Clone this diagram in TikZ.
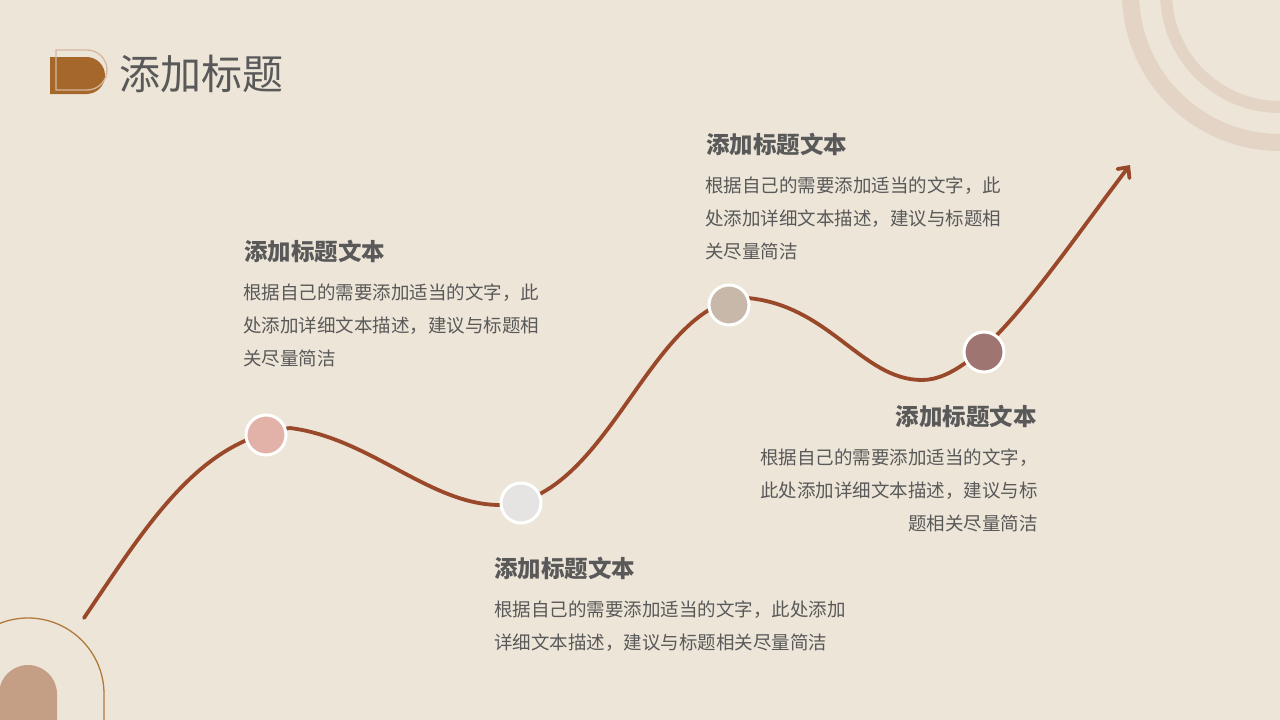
\documentclass[tikz,border=0pt]{standalone}
\usepackage{fontspec}
\setmainfont{Noto Sans CJK SC}
\usetikzlibrary{arrows.meta}
\definecolor{bgc}{HTML}{EDE5D8}
\definecolor{curvec}{HTML}{99482A}
\definecolor{ringc}{HTML}{E3D4C6}
\definecolor{txtc}{HTML}{595959}
\definecolor{iconfill}{HTML}{A5672A}
\definecolor{iconline}{HTML}{D6B79E}
\definecolor{archline}{HTML}{B07A3A}
\definecolor{archfill}{HTML}{C49E85}
\definecolor{dotA}{HTML}{E2B2A8}
\definecolor{dotB}{HTML}{E6E4E2}
\definecolor{dotC}{HTML}{C7B8AA}
\definecolor{dotD}{HTML}{9E7570}
\tikzset{
  dot/.style={circle, draw=white, line width=3pt, minimum size=40pt, inner sep=0pt},
  headtxt/.style={font=\fontsize{23.5}{28}\selectfont\bfseries, text=txtc, inner sep=0pt},
  bodytxt/.style={font=\fontsize{18.5}{22}\selectfont, text=txtc, inner sep=0pt},
  titletxt/.style={font=\fontsize{41}{46}\selectfont, text=txtc, inner sep=0pt},
  pathline/.style={draw=curvec, line width=3.8pt, line cap=round}
}
\begin{document}
\begin{tikzpicture}[x=1pt,y=-1pt]
\useasboundingbox (0,0) rectangle (1280,720);
\fill[bgc] (0,0) rectangle (1280,720);
% decorations
\begin{scope}
\clip (0,0) rectangle (1280,720);
\draw[ringc, line width=17pt] (1280,-7) circle (149.5);
\draw[ringc, line width=12pt] (1280,-7) circle (114);
\fill[archfill] (57,721) -- (57,694) arc[start angle=0, end angle=-180, radius=29] -- (-1,721) -- cycle;
\draw[archline, line width=1.3pt] (104,721) -- (104,694) arc[start angle=0, end angle=-180, radius=76] -- (-48,721);
\end{scope}
% title icon
\fill[iconfill] (50,57) -- (86.5,57) arc[start angle=-90, end angle=90, radius=18.5] -- (50,94) -- cycle;
\draw[iconline, line width=1.3pt] (56,90) -- (56,50) -- (87,50) arc[start angle=-90, end angle=90, radius=20] -- cycle;
\node[titletxt, anchor=base west] (title) at (119,89) {添加标题};
% curve
\coordinate (c0) at (84,618);
\coordinate (c5) at (1130,165);
\draw[pathline, -{Straight Barb[length=8pt,width=15pt,line cap=round]}]
  (c0) .. controls (150,520) and (200,440) .. (290,428)
  .. controls (370,438) and (430,505) .. (500,505)
  .. controls (610,500) and (650,300) .. (748,298)
  .. controls (830,306) and (862,380) .. (922,380)
  .. controls (980,380) and (1050,270) .. (c5);
\node[dot, fill=dotA] (n1) at (266,435) {};
\node[dot, fill=dotB] (n2) at (521,503) {};
\node[dot, fill=dotC] (n3) at (729,305) {};
\node[dot, fill=dotD] (n4) at (984,352) {};
% block 1
\node[headtxt, anchor=base west] (h1) at (244,260) {添加标题文本};
\node[bodytxt, anchor=base west] (b1a) at (243,299) {根据自己的需要添加适当的文字，此};
\node[bodytxt, anchor=base west] (b1b) at (243,332) {处添加详细文本描述，建议与标题相};
\node[bodytxt, anchor=base west] (b1c) at (243,365) {关尽量简洁};
% block 2
\node[headtxt, anchor=base west] (h2) at (494,577) {添加标题文本};
\node[bodytxt, anchor=base west] (b2a) at (494,616) {根据自己的需要添加适当的文字，此处添加};
\node[bodytxt, anchor=base west] (b2b) at (494,649) {详细文本描述，建议与标题相关尽量简洁};
% block 3
\node[headtxt, anchor=base west] (h3) at (706,153) {添加标题文本};
\node[bodytxt, anchor=base west] (b3a) at (705,192) {根据自己的需要添加适当的文字，此};
\node[bodytxt, anchor=base west] (b3b) at (705,225) {处添加详细文本描述，建议与标题相};
\node[bodytxt, anchor=base west] (b3c) at (705,258) {关尽量简洁};
% block 4
\node[headtxt, anchor=base east] (h4) at (1037,425) {添加标题文本};
\node[bodytxt, anchor=base east] (b4a) at (1038,464) {根据自己的需要添加适当的文字，};
\node[bodytxt, anchor=base east] (b4b) at (1038,497) {此处添加详细文本描述，建议与标};
\node[bodytxt, anchor=base east] (b4c) at (1038,530) {题相关尽量简洁};
\end{tikzpicture}
\end{document}
